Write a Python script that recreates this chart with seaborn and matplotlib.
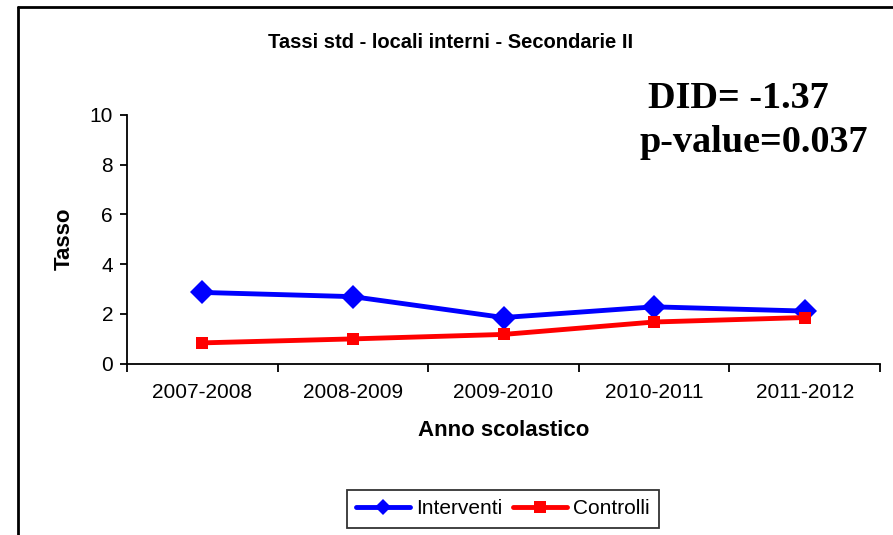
import matplotlib
matplotlib.use("Agg")
import matplotlib.pyplot as plt
import seaborn as sns
import pandas as pd
import numpy as np
from matplotlib.lines import Line2D

years = ["2007-2008", "2008-2009", "2009-2010", "2010-2011", "2011-2012"]
interventi = [2.86, 2.69, 1.85, 2.28, 2.11]
controlli = [0.83, 0.99, 1.17, 1.67, 1.85]
series_names = ["Interventi", "Controlli"]
y_ticks = [0, 2, 4, 6, 8, 10]

df = pd.DataFrame({
    "Anno": years * 2,
    "Tasso": interventi + controlli,
    "Gruppo": [series_names[0]] * len(years) + [series_names[1]] * len(years),
})

sns.set_theme(style="white")
plt.rcParams["font.family"] = ["Liberation Sans", "DejaVu Sans"]
plt.rcParams["text.color"] = "black"
plt.rcParams["axes.labelcolor"] = "black"
plt.rcParams["xtick.color"] = "black"
plt.rcParams["ytick.color"] = "black"

fig = plt.figure(figsize=(8.93, 5.35), dpi=100)
ax = fig.add_axes([127 / 893, 1 - 363.5 / 535, (880 - 127) / 893, (363.5 - 115) / 535])

sns.lineplot(
    data=df, x="Anno", y="Tasso", hue="Gruppo", style="Gruppo",
    palette={"Interventi": "#0000FF", "Controlli": "#FF0000"},
    markers={"Interventi": "D", "Controlli": "s"},
    dashes=False, linewidth=3.5, markeredgewidth=0, ax=ax, legend=False,
    sort=False,
)
for line, ms in zip(ax.get_lines(), [12, 9]):
    line.set_markersize(ms)

ax.set_xlim(-0.5, len(years) - 0.5)
ax.set_ylim(0, 10)
ax.set_yticks(y_ticks)
ax.set_yticklabels([str(t) for t in y_ticks], fontsize=15)
ax.set_xticks(range(len(years)))
ax.set_xticklabels(years, fontsize=15)
ax.set_xticks(np.arange(-0.5, len(years), 1.0), minor=True)
ax.tick_params(axis="x", which="major", length=0, pad=14)
ax.tick_params(axis="x", which="minor", length=6, width=1.3, color="black", direction="out", bottom=True)
ax.tick_params(axis="y", which="major", length=5, width=1.3, color="black", direction="out", left=True, pad=5)
for s in ["top", "right"]:
    ax.spines[s].set_visible(False)
for s in ["left", "bottom"]:
    ax.spines[s].set_color("black")
    ax.spines[s].set_linewidth(1.3)

ax.set_xlabel("Anno scolastico", fontsize=16, fontweight="bold", labelpad=13)
ax.set_ylabel("Tasso", fontsize=16, fontweight="bold", labelpad=11)

fig.text(451 / 893, 1 - 42 / 535, "Tassi std - locali interni - Secondarie II",
         ha="center", va="center", fontsize=14.5, fontweight="bold")

fig.text(648 / 893, 1 - 98 / 535, "DID= -1.37", ha="left", va="center", color="black",
         fontsize=27.5, fontweight="bold", family=["Liberation Serif", "DejaVu Serif"])
fig.text(640 / 893, 1 - 143 / 535, "p-value=0.037", ha="left", va="center", color="black",
         fontsize=27.5, fontweight="bold", family=["Liberation Serif", "DejaVu Serif"])

handles = [
    Line2D([], [], color="#0000FF", marker="D", markersize=8, linewidth=3.5, markeredgewidth=0),
    Line2D([], [], color="#FF0000", marker="s", markersize=8, linewidth=3.5, markeredgewidth=0),
]
leg = fig.legend(handles, series_names, loc="center", bbox_to_anchor=(503 / 893, 1 - 509 / 535),
                 ncol=2, fontsize=15, frameon=True, fancybox=False, handlelength=2.6,
                 columnspacing=0.5, handletextpad=0.3, borderpad=0.45, borderaxespad=0)
leg.get_frame().set_edgecolor("black")
leg.get_frame().set_linewidth(1.3)

# chart frame (left and top edges visible)
fig.add_artist(Line2D([18 / 893, 18 / 893], [0, 1 - 7 / 535], transform=fig.transFigure, color="black", linewidth=2))
fig.add_artist(Line2D([18 / 893, 1], [1 - 7 / 535, 1 - 7 / 535], transform=fig.transFigure, color="black", linewidth=2))

fig.savefig("out.png", dpi=100, facecolor="white")
